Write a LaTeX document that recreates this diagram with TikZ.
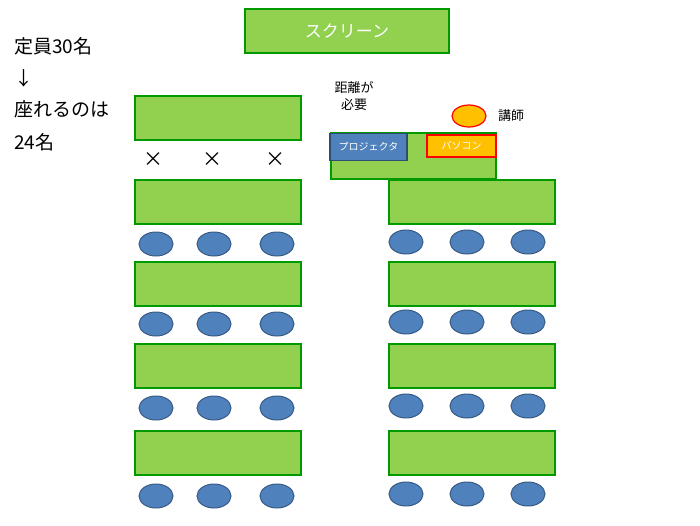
\documentclass[tikz,border=0pt]{standalone}
\usetikzlibrary{shapes.geometric}
\usepackage{fontspec}
\setmainfont{Noto Sans CJK JP}
\begin{document}
\begin{tikzpicture}[x=1pt,y=-1pt,
 tbl/.style={draw=green!60!black,fill=tgreen,line width=1.2pt},
 chair/.style={draw=cblue!70!black,fill=cblue,line width=1pt,ellipse,minimum width=34pt,minimum height=24pt,inner sep=0},
 lbl/.style={font=\fontsize{19}{24}\selectfont,anchor=west,inner sep=0}]
\definecolor{tgreen}{HTML}{92D050}
\definecolor{cblue}{HTML}{4F81BD}
\definecolor{orng}{HTML}{FFC000}
\useasboundingbox (0,0) rectangle (700,525);
\node[tbl,minimum width=204pt,minimum height=44pt,text=white,font=\fontsize{17}{20}\selectfont] (scr) at (347,31) {スクリーン};
\foreach \y [count=\i] in {118,202,284,366,453}
  \draw[tbl] (135,\y-22) rectangle (301,\y+22) node[midway] (L\i) {};
\foreach \y [count=\i] in {202,284,366,453}
  \draw[tbl] (389,\y-22) rectangle (555,\y+22) node[midway] (R\i) {};
\draw[tbl] (331,133) rectangle (496,179) node[midway] (pod) {};
\node[draw=cblue!60!black,fill=cblue,line width=1.2pt,minimum width=77pt,minimum height=27pt,inner sep=0,text=white,font=\fontsize{10}{12}\selectfont] (proj) at (368.5,147) {プロジェクタ};
\node[draw=red,fill=orng,line width=1.2pt,minimum width=69pt,minimum height=22pt,inner sep=0,text=white,font=\fontsize{10}{12}\selectfont] (pc) at (461.5,146) {パソコン};
\node[draw=red,fill=orng,line width=1.2pt,ellipse,minimum width=34pt,minimum height=22pt,inner sep=0] (lec) at (469,116) {};
\node[font=\fontsize{13}{16}\selectfont] (lect) at (511,116) {講師};
\node[font=\fontsize{13}{17}\selectfont,align=center] (dist) at (354,96) {距離が\\必要};
\node[lbl] (t1) at (14,46) {定員30名};
\node[lbl] (t2) at (14,78) {↓};
\node[lbl] (t3) at (14,109) {座れるのは};
\node[lbl] (t4) at (14,142) {24名};
\foreach \x [count=\i] in {153,212,275}
  \node[font=\fontsize{20}{20}\selectfont] (x\i) at (\x,160) {×};
\foreach \y [count=\j] in {244,324,408,496}{
  \foreach \x [count=\i] in {156,214,277} \node[chair] (lc\j\i) at (\x,\y) {};
  \foreach \x [count=\i] in {406,467,528} \node[chair] (rc\j\i) at (\x,\y-2) {};
}
\end{tikzpicture}
\end{document}
